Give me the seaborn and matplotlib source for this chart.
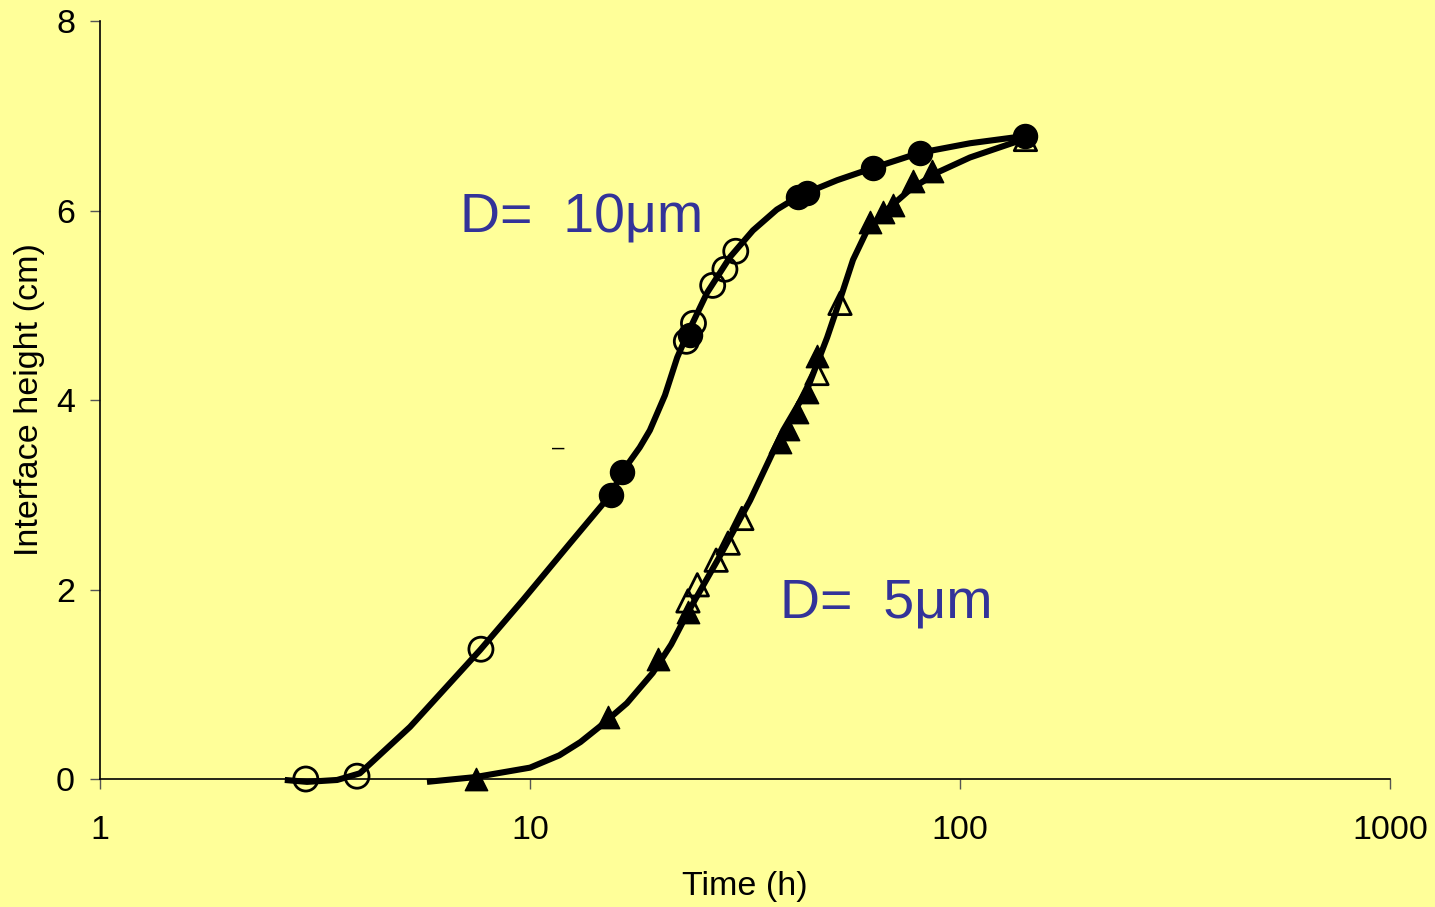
import numpy as np
import pandas as pd
import seaborn as sns
import matplotlib.pyplot as plt
from matplotlib.ticker import FixedLocator, FixedFormatter, NullLocator

# measured points, D = 10 um
t10_open = [3.01, 3.96, 7.69, 23.1, 24.0, 26.6, 28.4, 30.1]
h10_open = [0.0, 0.03, 1.37, 4.62, 4.81, 5.21, 5.38, 5.57]
t10_fill = [15.4, 16.4, 23.6, 42.0, 44.1, 62.8, 80.7, 142]
h10_fill = [3.00, 3.24, 4.69, 6.14, 6.18, 6.45, 6.61, 6.79]

# measured points, D = 5 um
t5_fill = [7.49, 15.2, 19.9, 23.3, 38.1, 39.8, 41.8, 44.1, 46.5, 61.8, 66.2, 69.8, 77.8, 86.1]
h5_fill = [0.0, 0.65, 1.27, 1.76, 3.56, 3.69, 3.87, 4.08, 4.47, 5.88, 5.98, 6.06, 6.31, 6.42]
t5_open = [23.3, 24.5, 27.1, 28.9, 31.1, 46.5, 52.6, 142]
h5_open = [1.88, 2.05, 2.31, 2.49, 2.75, 4.28, 5.02, 6.75]

# fitted curves
t10_curve = [2.69, 3.03, 3.56, 4.02, 5.26, 7.65, 9.63, 12.4, 15.4, 16.5, 18.0, 19.0,
             20.6, 22.0, 23.3, 25.8, 29.2, 33.0, 37.5, 42.5, 51.8, 62.8, 80.7, 105.5, 138]
h10_curve = [-0.01, -0.03, -0.01, 0.06, 0.55, 1.36, 1.89, 2.49, 3.00, 3.26, 3.50, 3.68,
             4.05, 4.45, 4.71, 5.13, 5.51, 5.79, 6.01, 6.16, 6.32, 6.45, 6.61, 6.71, 6.78]
t5_curve = [5.76, 7.45, 10.0, 11.7, 13.1, 14.5, 16.8, 19.3, 21.3, 23.3, 27.7, 32.5,
            38.8, 44.1, 49.1, 52.6, 56.4, 60.8, 67.7, 76.5, 88.4, 105.5, 138]
h5_curve = [-0.03, 0.02, 0.12, 0.25, 0.39, 0.55, 0.80, 1.12, 1.42, 1.76, 2.36, 2.94,
            3.68, 4.11, 4.66, 5.06, 5.48, 5.79, 6.01, 6.22, 6.40, 6.56, 6.74]

x_ticks = [1, 10, 100, 1000]
y_ticks = [0, 2, 4, 6, 8]

bg = '#FFFF99'
plt.rcParams['font.family'] = ['Liberation Sans', 'DejaVu Sans']

fig = plt.figure(figsize=(14.35, 9.07), dpi=100, facecolor=bg)
ax = fig.add_axes([0.0697, 0.1411, 0.8989, 0.8357])
ax.set_facecolor(bg)

# curves
for tc, hc in [(t10_curve, h10_curve), (t5_curve, h5_curve)]:
    sns.lineplot(x=tc, y=hc, ax=ax, color='black', lw=4.4, sort=False)
for ln in ax.lines:
    ln.set_clip_on(False)
    ln.set_solid_joinstyle('round')
    ln.set_solid_capstyle('butt')

# markers
kw = dict(ax=ax, edgecolor='black', clip_on=False)
sns.scatterplot(x=t5_open, y=h5_open, marker='^', s=260, facecolor='none',
                linewidth=2, zorder=4, **kw)
sns.scatterplot(x=t5_fill, y=h5_fill, marker='^', s=260, color='black',
                linewidth=1, zorder=5, **kw)
sns.scatterplot(x=t10_open, y=h10_open, marker='o', s=300, facecolor='none',
                linewidth=2, zorder=4, **kw)
sns.scatterplot(x=t10_fill, y=h10_fill, marker='o', s=300, color='black',
                linewidth=1, zorder=5, **kw)

ax.set_xscale('log')
ax.set_xlim(1, 1000)
ax.set_ylim(0, 8)
ax.xaxis.set_major_locator(FixedLocator(x_ticks))
ax.xaxis.set_major_formatter(FixedFormatter([str(v) for v in x_ticks]))
ax.xaxis.set_minor_locator(NullLocator())
ax.set_yticks(y_ticks)

for s in ['top', 'right']:
    ax.spines[s].set_visible(False)
for s in ['left', 'bottom']:
    ax.spines[s].set_color('black')
    ax.spines[s].set_linewidth(1.2)
ax.tick_params(axis='both', direction='out', length=7, width=1, color='#555555',
               labelsize=24.5, colors='black')
ax.tick_params(axis='x', pad=19)
ax.tick_params(axis='y', pad=11)

ax.set_xlabel('Time (h)', fontsize=24.5, labelpad=18)
ax.set_ylabel('Interface height (cm)', fontsize=24.5, labelpad=8)

# annotations
ax.text(0.279, 0.74, 'D=  10\u03bcm', transform=ax.transAxes, fontsize=40,
        color='#333399', va='center', ha='left')
ax.text(0.527, 0.232, 'D=  5\u03bcm', transform=ax.transAxes, fontsize=40,
        color='#333399', va='center', ha='left')
ax.text(0.3505, 0.436, '\u2013', transform=ax.transAxes, fontsize=16,
        color='black', va='center', ha='left')

fig.savefig('out.png', dpi=100, facecolor=bg)
